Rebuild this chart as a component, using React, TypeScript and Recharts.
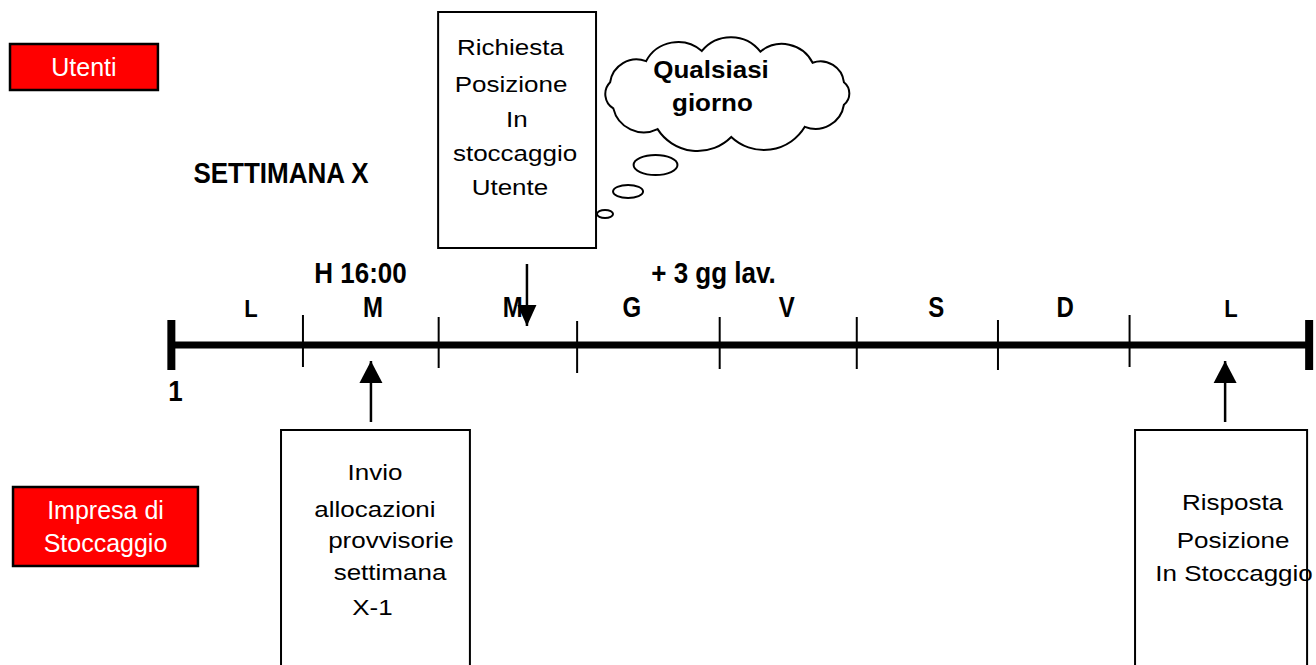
import React from "react";
import {
  ComposedChart,
  XAxis,
  YAxis,
  Scatter,
  ReferenceLine,
  ReferenceArea,
} from "recharts";

const FONT = '"Liberation Sans", Arial, Helvetica, sans-serif';

// x = days along the week (0 = start of Monday), y = lanes (0 = timeline,
// above = Utenti, below = Impresa di Stoccaggio)
const X_DOMAIN = [-1.25, 8.35];
const Y_DOMAIN = [-3.2, 3.45];

const dayLabels = ["L", "M", "M", "G", "V", "S", "D", "L"];
const dayLabelX = [0.58, 1.47, 2.49, 3.36, 4.49, 5.58, 6.52, 7.73];
const dayLabelY = 0.285;

const timelineStart = 0;
const timelineEnd = 8.3;
const dayBounds = [0.96, 1.95, 2.96, 4.0, 5.0, 6.03, 6.99];
const boundTop = [0.3, 0.28, 0.24, 0.28, 0.28, 0.25, 0.3];
const boundBottom = [-0.22, -0.23, -0.28, -0.24, -0.24, -0.25, -0.22];

const notes = [
  { x: 1.38, y: 0.62, text: "H 16:00" },
  { x: 3.955, y: 0.62, text: "+ 3 gg lav." },
  { x: 0.8, y: 1.62, text: "SETTIMANA X" },
  { x: 0.03, y: -0.56, text: "1" },
];

// arrows: from tail to tip
const arrows = [
  { x: 2.594, from: 0.81, to: 0.19 },
  { x: 1.456, from: -0.77, to: -0.16 },
  { x: 7.687, from: -0.77, to: -0.16 },
];

const actors = [
  { lines: ["Utenti"], x1: -1.177, x2: -0.098, y1: 2.55, y2: 3.01 },
  { lines: ["Impresa di", "Stoccaggio"], x1: -1.155, x2: 0.194, y1: -2.21, y2: -1.42 },
];

const requestBox = { x1: 1.946, x2: 3.098, y1: 0.97, y2: 3.33 };
// open at the bottom, they run off the picture
const replyBoxes = [
  { x1: 0.8, x2: 2.178, y1: -3.2, y2: -0.85 },
  { x1: 7.03, x2: 8.285, y1: -3.2, y2: -0.85 },
];

const boxLines = [
  { x: 2.474, y: 2.9, text: "Richiesta" },
  { x: 2.478, y: 2.53, text: "Posizione" },
  { x: 2.52, y: 2.18, text: "In" },
  { x: 2.507, y: 1.84, text: "stoccaggio" },
  { x: 2.47, y: 1.5, text: "Utente" },
  { x: 1.485, y: -1.35, text: "Invio" },
  { x: 1.485, y: -1.72, text: "allocazioni" },
  { x: 1.602, y: -2.03, text: "provvisorie" },
  { x: 1.595, y: -2.35, text: "settimana" },
  { x: 1.467, y: -2.7, text: "X-1" },
  { x: 7.741, y: -1.65, text: "Risposta" },
  { x: 7.745, y: -2.03, text: "Posizione" },
  { x: 7.752, y: -2.36, text: "In Stoccaggio" },
];

const cloud = { x1: 3.105, x2: 5.002, y1: 1.97, y2: 3.06 };
const cloudLines = [
  { x: 3.937, y: 2.67, text: "Qualsiasi" },
  { x: 3.947, y: 2.34, text: "giorno" },
];
const bubbles = [
  { x1: 3.372, x2: 3.692, y1: 1.7, y2: 1.9 },
  { x1: 3.222, x2: 3.441, y1: 1.47, y2: 1.6 },
  { x1: 3.105, x2: 3.222, y1: 1.27, y2: 1.35 },
];

type TextStyle = { size: number; bold?: boolean; sy: number; fill?: string };

function textShape(pick: (t: string) => TextStyle) {
  return (props: any) => {
    const { cx, cy, payload } = props;
    const s = pick(payload.text);
    return (
      <text
        transform={`translate(${cx},${cy}) scale(1,${s.sy})`}
        textAnchor="middle"
        fontFamily={FONT}
        fontSize={s.size}
        fontWeight={s.bold ? 700 : 400}
        fill={s.fill ?? "#000"}
      >
        {payload.text}
      </text>
    );
  };
}

// the Mondays are written a bit smaller than the other days
const dayText = textShape((t) =>
  t === "L" ? { size: 22, bold: true, sy: 1.05 } : { size: 24, bold: true, sy: 1.2 }
);
const noteText = textShape(() => ({ size: 26, bold: true, sy: 1.1 }));
const boxText = textShape(() => ({ size: 26, sy: 0.86 }));
const cloudText = textShape(() => ({ size: 26, bold: true, sy: 0.9 }));

function ArrowHead(props: any) {
  const { cx, cy, payload } = props;
  if (payload.up) {
    return <path d={`M${cx},${cy} L${cx - 11.5},${cy + 22} L${cx + 11.5},${cy + 22} Z`} fill="#000" />;
  }
  return <path d={`M${cx},${cy} L${cx - 9.5},${cy - 21} L${cx + 9.5},${cy - 21} Z`} fill="#000" />;
}

function OpenBox({ x, y, width, height }: any) {
  return (
    <path
      d={`M${x},${y + height} V${y} H${x + width} V${y + height}`}
      fill="none"
      stroke="#000"
      strokeWidth={2}
    />
  );
}

function ActorBox({ x, y, width, height, lines }: any) {
  const lh = 33;
  const mid = y + height / 2 - ((lines.length - 1) * lh) / 2;
  return (
    <g>
      <rect x={x} y={y} width={width} height={height} fill="#ff0000" stroke="#000" strokeWidth={2.5} />
      {lines.map((l: string, i: number) => (
        <text
          key={i}
          x={x + width / 2}
          y={mid + i * lh}
          dy="0.36em"
          textAnchor="middle"
          fontFamily={FONT}
          fontSize={25}
          fill="#fff"
        >
          {l}
        </text>
      ))}
    </g>
  );
}

function Cloud({ x, y, width, height }: any) {
  const cx = x + width / 2;
  const cy = y + height / 2;
  const rx = width / 2 - 9;
  const ry = height / 2 - 11;
  const angles = [160, 195, 228, 258, 286, 315, 345, 15, 50, 88, 125];
  const pts = angles.map((a) => {
    const t = (a * Math.PI) / 180;
    return [cx + rx * Math.cos(t), cy + ry * Math.sin(t)];
  });
  let d = `M${pts[0][0]},${pts[0][1]}`;
  for (let i = 0; i < pts.length; i++) {
    const p = pts[i];
    const q = pts[(i + 1) % pts.length];
    const r = Math.hypot(q[0] - p[0], q[1] - p[1]) * 0.64;
    d += ` A${r},${r} 0 0 1 ${q[0]},${q[1]}`;
  }
  return <path d={d + " Z"} fill="none" stroke="#000" strokeWidth={2} />;
}

function Bubble({ x, y, width, height }: any) {
  return (
    <ellipse
      cx={x + width / 2}
      cy={y + height / 2}
      rx={width / 2}
      ry={height / 2}
      fill="none"
      stroke="#000"
      strokeWidth={2}
    />
  );
}

export default function App() {
  const dayData = dayLabels.map((text, i) => ({ x: dayLabelX[i], y: dayLabelY, text }));
  const heads = arrows.map((a) => ({ x: a.x, y: a.to, up: a.to > a.from }));

  return (
    <div style={{ position: "absolute", left: 0, top: 0, width: 1316, height: 665, background: "#fff" }}>
      <ComposedChart width={1316} height={665} margin={{ top: 0, right: 0, bottom: 0, left: 0 }}>
        <XAxis type="number" dataKey="x" domain={X_DOMAIN} allowDataOverflow hide />
        <YAxis type="number" dataKey="y" domain={Y_DOMAIN} allowDataOverflow hide />

        {actors.map((a, i) => (
          <ReferenceArea
            key={`actor-${i}`}
            x1={a.x1}
            x2={a.x2}
            y1={a.y1}
            y2={a.y2}
            shape={(p: any) => <ActorBox {...p} lines={a.lines} />}
          />
        ))}

        <ReferenceArea {...requestBox} fill="none" stroke="#000" strokeWidth={2} />
        {replyBoxes.map((b, i) => (
          <ReferenceArea key={`reply-${i}`} {...b} shape={(p: any) => <OpenBox {...p} />} />
        ))}

        <ReferenceArea {...cloud} shape={(p: any) => <Cloud {...p} />} />
        {bubbles.map((b, i) => (
          <ReferenceArea key={`bubble-${i}`} {...b} shape={(p: any) => <Bubble {...p} />} />
        ))}

        <ReferenceLine
          segment={[
            { x: timelineStart, y: 0 },
            { x: timelineEnd, y: 0 },
          ]}
          stroke="#000"
          strokeWidth={7}
        />
        {[timelineStart, timelineEnd].map((d) => (
          <ReferenceLine
            key={`cap-${d}`}
            segment={[
              { x: d, y: 0.25 },
              { x: d, y: -0.25 },
            ]}
            stroke="#000"
            strokeWidth={8}
          />
        ))}
        {dayBounds.map((d, i) => (
          <ReferenceLine
            key={`bound-${i}`}
            segment={[
              { x: d, y: boundTop[i] },
              { x: d, y: boundBottom[i] },
            ]}
            stroke="#000"
            strokeWidth={2}
          />
        ))}
        {arrows.map((a, i) => (
          <ReferenceLine
            key={`arrow-${i}`}
            segment={[
              { x: a.x, y: a.from },
              { x: a.x, y: a.to },
            ]}
            stroke="#000"
            strokeWidth={2.5}
          />
        ))}

        <Scatter data={heads} shape={ArrowHead} isAnimationActive={false} />
        <Scatter data={dayData} shape={dayText} isAnimationActive={false} />
        <Scatter data={notes} shape={noteText} isAnimationActive={false} />
        <Scatter data={boxLines} shape={boxText} isAnimationActive={false} />
        <Scatter data={cloudLines} shape={cloudText} isAnimationActive={false} />
      </ComposedChart>
    </div>
  );
}
